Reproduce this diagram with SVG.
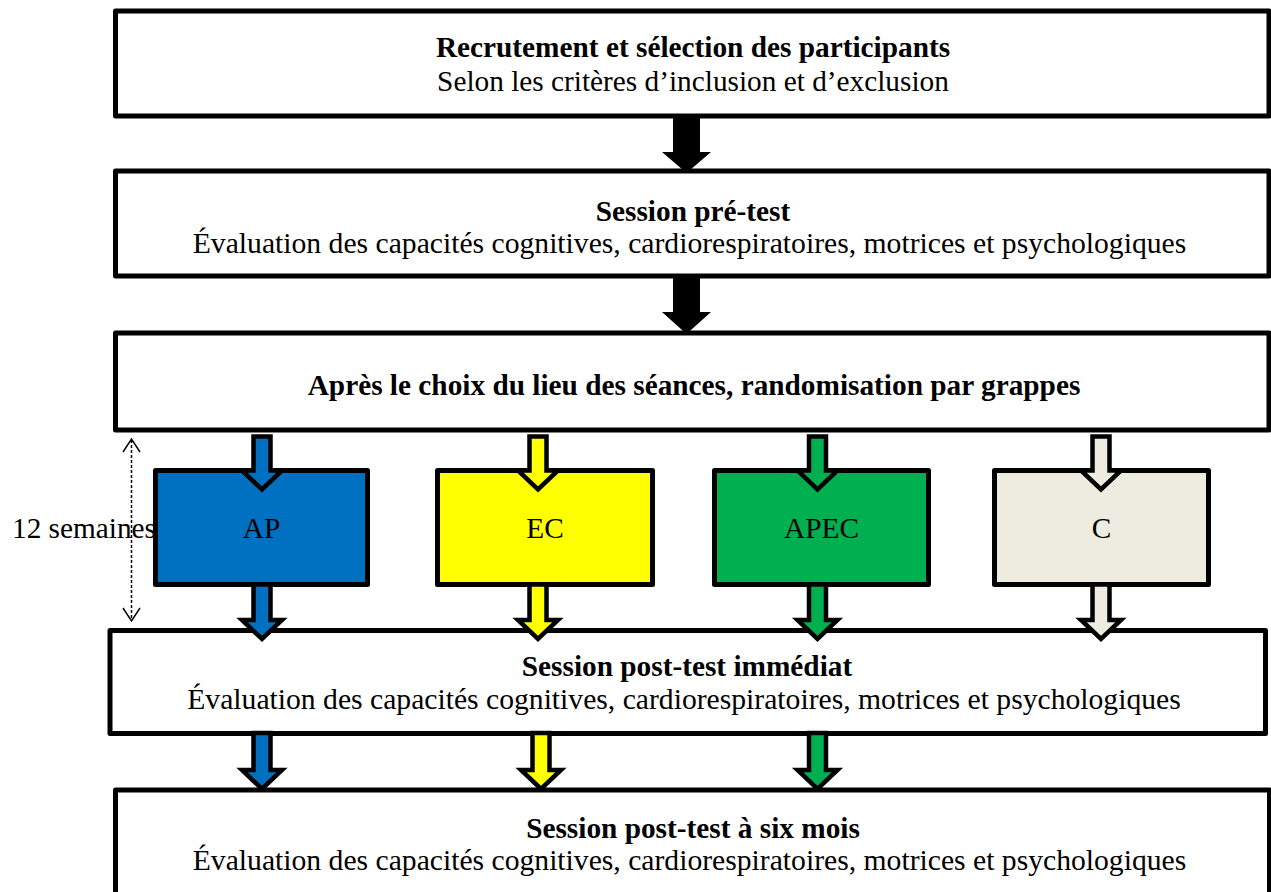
<svg xmlns="http://www.w3.org/2000/svg" width="1271" height="892" viewBox="0 0 1271 892">
<style>
.box{fill:#fff;stroke:#000;stroke-width:5;stroke-linejoin:round}
.grp{stroke:#000;stroke-width:5;stroke-linejoin:round}
.t{font-family:"Liberation Serif","Times New Roman",serif;font-size:29.3px;fill:#000;text-anchor:middle}
.e{font-size:29.65px}
.b{font-weight:bold}
.arr{stroke:#000;stroke-width:4.5;stroke-linejoin:miter}
.blk{fill:#000}
</style>
<defs>
<path id="aUp" d="M-8.5,436.5 H8.5 V470.5 H20 L0,489.5 L-20,470.5 H-8.5 Z"/>
<path id="aMid" d="M-8.5,584.5 H8.5 V620 H20 L0,639 L-20,620 H-8.5 Z"/>
<path id="aLow" d="M-8.5,733 H8.5 V770 H20 L0,789 L-20,770 H-8.5 Z"/>
</defs>
<rect width="1271" height="892" fill="#fff"/>

<g id="n1">
<rect class="box" x="115.5" y="11" width="1153.5" height="105"/>
<text class="t b" x="693" y="57">Recrutement et sélection des participants</text>
<text class="t" x="693" y="91">Selon les critères d’inclusion et d’exclusion</text>
</g>
<g id="n2">
<rect class="box" x="115.5" y="171" width="1153.5" height="105"/>
<text class="t b" x="693" y="221">Session pré-test</text>
<text class="t e" x="689.5" y="253">Évaluation des capacités cognitives, cardiorespiratoires, motrices et psychologiques</text>
</g>
<g id="n3">
<rect class="box" x="115.5" y="333" width="1153.5" height="97"/>
<text class="t b" x="694" y="395">Après le choix du lieu des séances, randomisation par grappes</text>
</g>
<g id="nAP">
<rect class="grp" fill="#0070C0" x="155.5" y="470.5" width="212" height="114"/>
<text class="t" x="261.5" y="538">AP</text>
</g>
<g id="nEC">
<rect class="grp" fill="#FFFF00" x="437.5" y="470.5" width="215" height="114"/>
<text class="t" x="545" y="538">EC</text>
</g>
<g id="nAPEC">
<rect class="grp" fill="#00B050" x="714.5" y="470.5" width="214" height="114"/>
<text class="t" x="821.5" y="538">APEC</text>
</g>
<g id="nC">
<rect class="grp" fill="#EEECE1" x="994.5" y="470.5" width="214" height="114"/>
<text class="t" x="1101.5" y="538">C</text>
</g>
<g id="n4">
<rect class="box" x="110" y="630.5" width="1155.5" height="103"/>
<text class="t b" x="687" y="676">Session post-test immédiat</text>
<text class="t e" x="684" y="709">Évaluation des capacités cognitives, cardiorespiratoires, motrices et psychologiques</text>
</g>
<g id="n5">
<rect class="box" x="115.5" y="790" width="1154" height="110"/>
<text class="t b" x="693" y="838">Session post-test à six mois</text>
<text class="t e" x="689.5" y="870">Évaluation des capacités cognitives, cardiorespiratoires, motrices et psychologiques</text>
</g>
<g id="label12">
<text class="t" x="12" y="538" style="text-anchor:start">12 semaines</text>
</g>

<g id="connectors">
<path class="blk" d="M673,116 H700 V152 H711 L686.5,173 L662,152 H673 Z"/>
<path class="blk" d="M673,276 H700 V312 H711 L686.5,334 L662,312 H673 Z"/>
<use href="#aUp" class="arr" fill="#0070C0" transform="translate(262,0)"/>
<use href="#aUp" class="arr" fill="#FFFF00" transform="translate(538,0)"/>
<use href="#aUp" class="arr" fill="#00B050" transform="translate(817.5,0)"/>
<use href="#aUp" class="arr" fill="#EEECE1" transform="translate(1101,0)"/>
<use href="#aMid" class="arr" fill="#0070C0" transform="translate(262,0)"/>
<use href="#aMid" class="arr" fill="#FFFF00" transform="translate(538,0)"/>
<use href="#aMid" class="arr" fill="#00B050" transform="translate(817.5,0)"/>
<use href="#aMid" class="arr" fill="#EEECE1" transform="translate(1101,0)"/>
<use href="#aLow" class="arr" fill="#0070C0" transform="translate(262,0)"/>
<use href="#aLow" class="arr" fill="#FFFF00" transform="translate(541,0)"/>
<use href="#aLow" class="arr" fill="#00B050" transform="translate(817.5,0)"/>
<g fill="none" stroke="#000" stroke-width="1.5">
<path d="M131.5,440 V620" stroke-dasharray="3,2"/>
<path d="M123,452 L131.5,439 L140,452"/>
<path d="M123,608 L131.5,621 L140,608"/>
</g>
</g>
</svg>
